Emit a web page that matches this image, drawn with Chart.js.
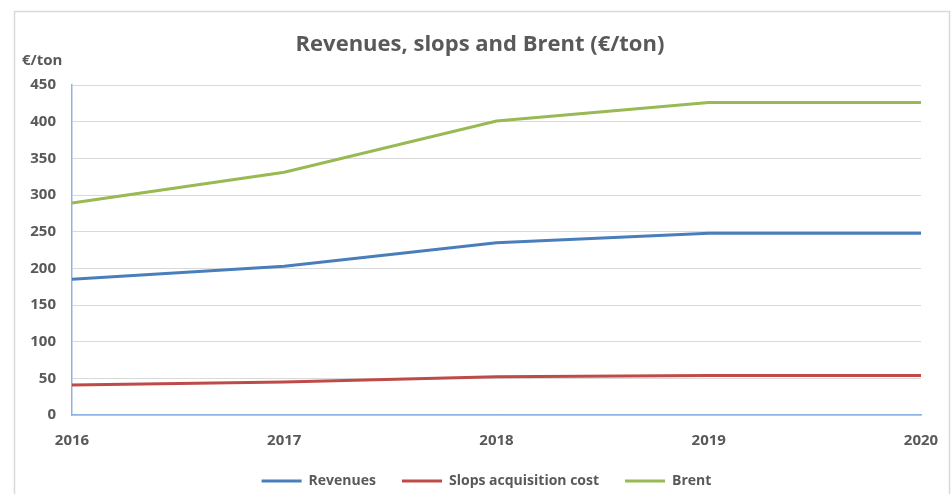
<!DOCTYPE html>
<html>
<head>
<meta charset="utf-8">
<script src="https://cdn.jsdelivr.net/npm/chart.js@4.4.1/dist/chart.umd.min.js"></script>
<style>
  html, body { margin: 0; padding: 0; background: #fff; }
  #wrap { width: 952px; height: 494px; }
</style>
</head>
<body>
<div id="wrap"><canvas id="grafico" width="952" height="494"></canvas></div>
<script>
const anos = ['2016', '2017', '2018', '2019', '2020'];
const receitas = [185, 203, 235, 248, 248];
const custoSlops = [41, 45, 52, 54, 54];
const brent = [289, 331, 401, 426, 426];
const ticksY = [0, 50, 100, 150, 200, 250, 300, 350, 400, 450];

const corTexto = '#595959';
const fonte = '"Open Sans", Lato, sans-serif';

// moldura, titulo e unidade
const extras = {
    id: 'extras',
    afterLayout(chart) {
        // legenda um pouco deslocada para a direita, como no original
        chart.legend.left += 26;
        chart.legend.right += 26;
    },
    beforeDraw(chart) {
        const ctx = chart.ctx;
        ctx.save();
        ctx.fillStyle = '#fff';
        ctx.fillRect(0, 0, chart.width, chart.height);
        ctx.strokeStyle = '#d9d9d9';
        ctx.lineWidth = 1.5;
        ctx.strokeRect(14.5, 11.5, 935, 500);
        ctx.restore();
    },
    afterDraw(chart) {
        const ctx = chart.ctx;
        ctx.save();
        ctx.fillStyle = corTexto;
        ctx.textBaseline = 'middle';
        ctx.textAlign = 'center';
        ctx.font = 'bold 22px ' + fonte;
        ctx.fillText('Revenues, slops and Brent (€/ton)', 480, 45);
        ctx.textAlign = 'left';
        ctx.font = 'bold 15px ' + fonte;
        ctx.fillText('€/ton', 22, 61);
        ctx.restore();
    }
};

new Chart(document.getElementById('grafico').getContext('2d'), {
    type: 'line',
    data: {
        labels: anos,
        datasets: [
            { label: 'Revenues', data: receitas, borderColor: '#4a7ebb', backgroundColor: '#4a7ebb' },
            { label: 'Slops acquisition cost', data: custoSlops, borderColor: '#be4b48', backgroundColor: '#be4b48' },
            { label: 'Brent', data: brent, borderColor: '#98b954', backgroundColor: '#98b954' }
        ]
    },
    options: {
        responsive: false,
        animation: false,
        elements: {
            line: { borderWidth: 3, tension: 0 },
            point: { radius: 0 }
        },
        layout: { padding: { top: 85, right: 31, left: 0, bottom: 6 } },
        scales: {
            x: {
                grid: { display: false },
                border: { display: true, color: '#8db3e2', width: 1.5 },
                ticks: { color: corTexto, font: { family: fonte, size: 15, weight: 'bold' }, padding: 9, maxRotation: 0 },
                afterFit(scale) { scale.height = 33; }
            },
            y: {
                min: 0,
                max: 450,
                afterBuildTicks(scale) { scale.ticks = ticksY.map(v => ({ value: v })); },
                grid: { color: '#d9d9d9', drawTicks: false },
                border: { display: true, color: '#8db3e2', width: 1.5 },
                ticks: { color: corTexto, font: { family: fonte, size: 15, weight: 'bold' }, padding: 16 },
                afterFit(scale) { scale.width = 72; }
            }
        },
        plugins: {
            title: { display: false },
            tooltip: { enabled: false },
            legend: {
                position: 'bottom',
                maxHeight: 40,
                labels: {
                    boxWidth: 40,
                    boxHeight: 3,
                    padding: 26,
                    color: corTexto,
                    font: { family: fonte, size: 14, weight: 'bold' },
                    generateLabels(chart) {
                        return chart.data.datasets.map((ds, i) => ({
                            text: ds.label,
                            fillStyle: ds.borderColor,
                            strokeStyle: ds.borderColor,
                            lineWidth: 0,
                            fontColor: corTexto,
                            datasetIndex: i
                        }));
                    }
                }
            }
        }
    },
    plugins: [extras]
});
</script>
</body>
</html>
